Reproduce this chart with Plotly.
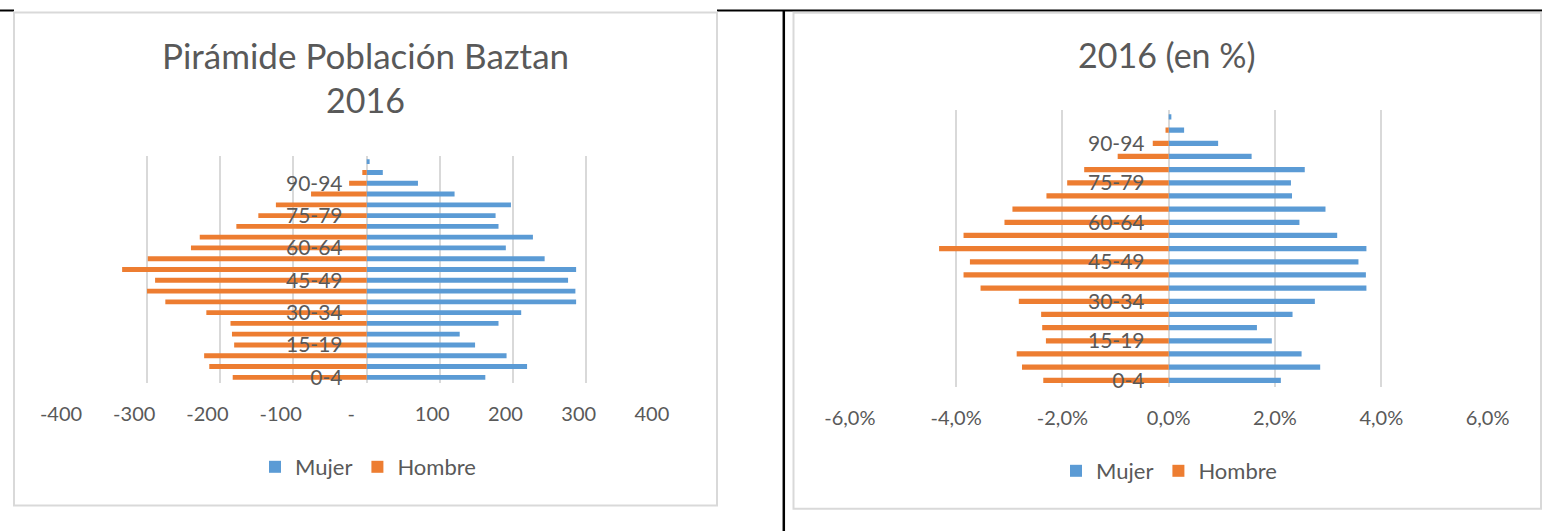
import plotly.graph_objects as go

W, H = 1542, 531

categories = ["0-4", "5-9", "10-14", "15-19", "20-24", "25-29", "30-34", "35-39",
              "40-44", "45-49", "50-54", "55-59", "60-64", "65-69", "70-74", "75-79",
              "80-84", "85-89", "90-94", "95-99", "100+"]
shown_labels = ["0-4", "15-19", "30-34", "45-49", "60-64", "75-79", "90-94"]

mujer_n = [162, 219, 191, 148, 127, 180, 211, 286, 285, 275, 286, 243, 190, 227,
           180, 176, 197, 120, 70, 22, 4]
hombre_n = [-183, -215, -222, -181, -184, -186, -219, -275, -300, -289, -334, -299,
            -240, -228, -178, -148, -124, -76, -24, -6, 0]

mujer_pct = [2.11, 2.85, 2.50, 1.94, 1.66, 2.33, 2.75, 3.72, 3.71, 3.57, 3.72, 3.17,
             2.46, 2.95, 2.32, 2.30, 2.56, 1.56, 0.93, 0.29, 0.05]
hombre_pct = [-2.36, -2.76, -2.86, -2.31, -2.38, -2.40, -2.82, -3.54, -3.86, -3.74,
              -4.32, -3.86, -3.09, -2.94, -2.30, -1.91, -1.59, -0.96, -0.30, -0.06, 0]

x1_ticks = [-400, -300, -200, -100, 0, 100, 200, 300, 400]
x1_text = ["-400", "-300", "-200", "-100", "-", "100", "200", "300", "400"]
x2_ticks = [-6, -4, -2, 0, 2, 4, 6]
x2_text = ["-6,0%", "-4,0%", "-2,0%", "0,0%", "2,0%", "4,0%", "6,0%"]

BLUE = "#5B9BD5"
ORANGE = "#ED7D31"
GRID = "#D9D9D9"
TXT = "#595959"
FONT = "Lato"

NB = "\u00a0"
def pad(t, v):
    if v < 0:
        return t + NB * 5
    if v == 0:
        return t + NB * 6
    return t + NB * 3

x1_text_padded = [pad(t, v) for t, v in zip(x1_text, x1_ticks)]

def px(x):
    return x / W

def py(y):
    return 1 - y / H

fig = go.Figure()

fig.add_trace(go.Bar(y=categories, x=mujer_n, orientation="h", name="Mujer",
                     marker=dict(color=BLUE, line=dict(width=0)), width=0.45,
                     xaxis="x", yaxis="y", legend="legend"))
fig.add_trace(go.Bar(y=categories, x=hombre_n, orientation="h", name="Hombre",
                     marker=dict(color=ORANGE, line=dict(width=0)), width=0.45,
                     xaxis="x", yaxis="y", legend="legend"))
fig.add_trace(go.Bar(y=categories, x=mujer_pct, orientation="h", name="Mujer",
                     marker=dict(color=BLUE, line=dict(width=0)), width=0.4,
                     xaxis="x2", yaxis="y2", legend="legend2"))
fig.add_trace(go.Bar(y=categories, x=hombre_pct, orientation="h", name="Hombre",
                     marker=dict(color=ORANGE, line=dict(width=0)), width=0.4,
                     xaxis="x2", yaxis="y2", legend="legend2"))

common_x = dict(showgrid=True, gridcolor=GRID, gridwidth=1.5, zeroline=False,
                showline=False, ticks="outside", ticklen=13, automargin=False,
                tickcolor="rgba(0,0,0,0)", tickfont=dict(size=20, color=TXT, family=FONT),
                fixedrange=True)
common_y = dict(type="category", categoryorder="array", categoryarray=categories,
                range=[-0.5, len(categories) - 0.5], tickmode="array",
                tickvals=shown_labels, ticktext=shown_labels, automargin=False,
                showgrid=False, zeroline=False, showline=False, ticks="outside",
                ticklen=20, tickcolor="rgba(0,0,0,0)",
                tickfont=dict(size=21, color=TXT, family=FONT), anchor="free",
                fixedrange=True)

fig.update_layout(
    width=W, height=H,
    margin=dict(l=0, r=0, t=0, b=0, pad=0, autoexpand=False),
    paper_bgcolor="white", plot_bgcolor="rgba(0,0,0,0)",
    barmode="overlay",
    font=dict(family=FONT, color=TXT),
    xaxis=dict(domain=[px(73.8), px(659.6)], anchor="y", range=[-400, 400],
               tickvals=x1_ticks, ticktext=x1_text_padded, **common_x),
    yaxis=dict(domain=[py(382.7), py(156.3)], position=px(366.7), **common_y),
    xaxis2=dict(domain=[px(849.8), px(1487.6)], anchor="y2", range=[-6, 6],
                tickvals=x2_ticks, ticktext=x2_text, **common_x),
    yaxis2=dict(domain=[py(386.9), py(110.4)], position=px(1168.7), **common_y),
    legend=dict(orientation="h", x=px(368), y=py(467), xanchor="center", yanchor="middle",
                font=dict(size=22, color=TXT, family=FONT), bgcolor="rgba(0,0,0,0)",
                itemwidth=30, traceorder="normal"),
    legend2=dict(orientation="h", x=px(1169), y=py(471), xanchor="center", yanchor="middle",
                 font=dict(size=22, color=TXT, family=FONT), bgcolor="rgba(0,0,0,0)",
                 itemwidth=30, traceorder="normal"),
    showlegend=True,
)

shapes = [
    # table borders (black)
    dict(type="line", xref="paper", yref="paper", x0=px(0), x1=px(14), y0=py(10.5), y1=py(10.5),
         line=dict(color="black", width=2), layer="below"),
    dict(type="line", xref="paper", yref="paper", x0=px(717), x1=px(1542), y0=py(10.5), y1=py(10.5),
         line=dict(color="black", width=2), layer="below"),
    dict(type="line", xref="paper", yref="paper", x0=px(783.8), x1=px(783.8), y0=py(10), y1=py(531),
         line=dict(color="black", width=2.5), layer="below"),
    # chart frames
    dict(type="rect", xref="paper", yref="paper", x0=px(14), x1=px(717), y0=py(12.5), y1=py(505.5),
         line=dict(color=GRID, width=2), fillcolor="white", layer="below"),
    dict(type="rect", xref="paper", yref="paper", x0=px(793.5), x1=px(1541), y0=py(12.8), y1=py(508.8),
         line=dict(color=GRID, width=2), fillcolor="white", layer="below"),
]
fig.update_layout(shapes=shapes)

annotations = [
    dict(text="Pirámide Población Baztan", x=px(365.5), y=py(55), xref="paper", yref="paper",
         xanchor="center", yanchor="middle", showarrow=False,
         font=dict(size=35, color=TXT, family=FONT)),
    dict(text="2016", x=px(365.5), y=py(100), xref="paper", yref="paper",
         xanchor="center", yanchor="middle", showarrow=False,
         font=dict(size=34, color=TXT, family=FONT)),
    dict(text="2016 (en %)", x=px(1167), y=py(55), xref="paper", yref="paper",
         xanchor="center", yanchor="middle", showarrow=False,
         font=dict(size=34, color=TXT, family=FONT)),
]
fig.update_layout(annotations=annotations)

fig.write_html("out.html", config={"displayModeBar": False},
               post_script="document.body.style.margin='0';document.body.style.overflow='hidden';")
